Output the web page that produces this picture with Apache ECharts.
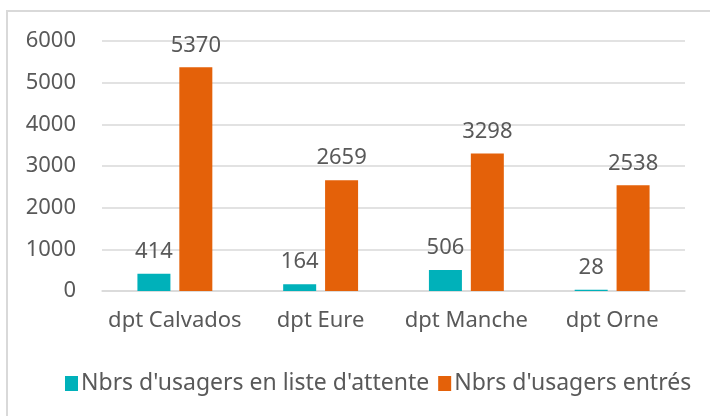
<!DOCTYPE html>
<html>
<head>
<meta charset="utf-8">
<script src="https://cdn.jsdelivr.net/npm/echarts@6/dist/echarts.min.js"></script>
<style>
  html, body { margin: 0; padding: 0; background: #fff; }
  #main { width: 710px; height: 416px; }
</style>
</head>
<body>
<div id="main"></div>
<script>
// données
var departements = ['dpt Calvados', 'dpt Eure', 'dpt Manche', 'dpt Orne']
var listeAttente = [414, 164, 506, 28]
var usagersEntres = [5370, 2659, 3298, 2538]
var nomsSeries = ["Nbrs d'usagers en liste d'attente", "Nbrs d'usagers entrés"]

var font = '"Noto Sans", sans-serif'
var grey = '#595959'

var myChart = echarts.init(document.getElementById('main'))
myChart.setOption({
  animation: false,
  textStyle: { fontFamily: font },
  graphic: [
    {
      type: 'rect',
      shape: { x: 7, y: 11, width: 720, height: 430 },
      style: { fill: 'none', stroke: '#d9d9d9', lineWidth: 2 }
    }
  ],
  grid: {
    left: 102,
    right: 25,
    top: 41,
    bottom: 125
  },
  legend: {
    bottom: 16,
    left: 60,
    width: 650,
    itemWidth: 13,
    itemHeight: 15,
    itemGap: 9,
    icon: 'rect',
    textStyle: { color: grey, fontSize: 23, fontFamily: font, padding: [0, 0, 0, -2] },
    data: nomsSeries
  },
  xAxis: {
    type: 'category',
    data: departements,
    axisTick: { show: false },
    axisLine: { lineStyle: { color: '#d9d9d9', width: 1.5 } },
    axisLabel: { color: grey, fontSize: 22, margin: 19, interval: 0, fontFamily: font }
  },
  yAxis: {
    type: 'value',
    min: 0,
    max: 6000,
    interval: 1000,
    axisLine: { show: false },
    axisTick: { show: false },
    axisLabel: { color: grey, fontSize: 22, margin: 26, fontFamily: font, formatter: function (v) { return String(v) } },
    splitLine: { lineStyle: { color: '#d9d9d9', width: 1.5 } }
  },
  series: [
    {
      name: nomsSeries[0],
      type: 'bar',
      data: listeAttente,
      barWidth: 33,
      barGap: '27%',
      itemStyle: { color: '#00b1ba' },
      label: { show: true, position: 'top', distance: 11, color: grey, fontSize: 22, fontFamily: font }
    },
    {
      name: nomsSeries[1],
      type: 'bar',
      data: usagersEntres,
      barWidth: 33,
      itemStyle: { color: '#e46109' },
      label: { show: true, position: 'top', distance: 11, color: grey, fontSize: 22, fontFamily: font }
    }
  ]
})
</script>
</body>
</html>
